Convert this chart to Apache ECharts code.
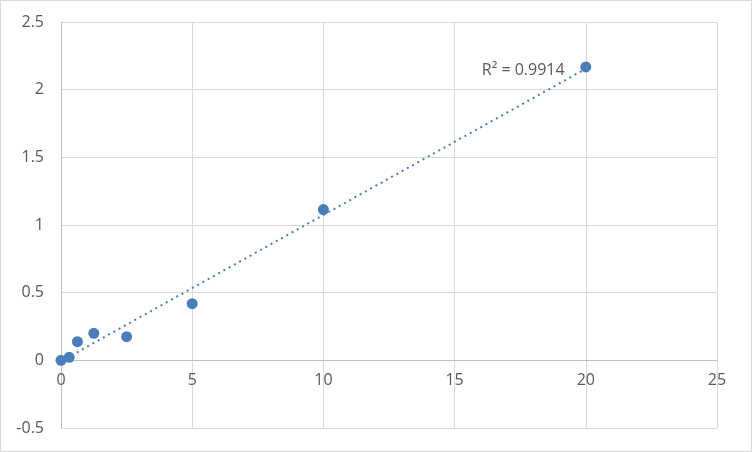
<html>
  <head>
    <meta charset="utf-8" />
    <script src="https://cdn.jsdelivr.net/npm/echarts@6/dist/echarts.min.js"></script>
  </head>
  <body>
    <style>
      html,
      body {
        margin: 0;
        background: #fff;
      }
      #main {
        width: 750px;
        height: 450px;
        border: 1px solid #d9d9d9;
      }
    </style>
    <div id="main"></div>
    <script>
      const concentration = [0, 0.3125, 0.625, 1.25, 2.5, 5, 10, 20];
      const absorbance = [0, 0.022, 0.138, 0.2, 0.175, 0.419, 1.114, 2.168];
      const r2Label = "R² = 0.9914";

      // least squares trendline, like the dotted Excel one
      const n = concentration.length;
      let sx = 0, sy = 0, sxx = 0, sxy = 0;
      for (let i = 0; i < n; i++) {
        sx += concentration[i];
        sy += absorbance[i];
        sxx += concentration[i] * concentration[i];
        sxy += concentration[i] * absorbance[i];
      }
      const slope = (n * sxy - sx * sy) / (n * sxx - sx * sx);
      const intercept = (sy - slope * sx) / n;
      const xMin = Math.min(...concentration);
      const xMax = Math.max(...concentration);
      const trend = [
        [xMin, intercept + slope * xMin],
        [xMax, intercept + slope * xMax],
      ];

      const labelFont = { color: "#595959", fontSize: 16, fontFamily: "Open Sans" };

      var chart = echarts.init(document.getElementById("main"));

      const yMin = -0.5, yMax = 2.5;
      const grid = { left: 60, right: 34, top: 21, bottom: 23 };
      // x axis sits on y = 0 with its labels, like Excel
      const gridH = 450 - grid.top - grid.bottom;
      const xOffset = -gridH * (0 - yMin) / (yMax - yMin);

      var option = {
        animation: false,
        grid: Object.assign({ outerBoundsMode: "none", containLabel: false }, grid),
        xAxis: {
          type: "value",
          min: 0,
          max: 25,
          interval: 5,
          offset: xOffset,
          axisLine: { onZero: false, lineStyle: { color: "#bfbfbf" } },
          axisTick: { show: false },
          axisLabel: Object.assign({ margin: 12 }, labelFont),
          splitLine: { lineStyle: { color: "#d9d9d9" } },
        },
        yAxis: {
          type: "value",
          min: yMin,
          max: yMax,
          interval: 0.5,
          axisLine: { show: true, onZero: true, lineStyle: { color: "#bfbfbf" } },
          axisTick: { show: false },
          axisLabel: Object.assign({ margin: 17 }, labelFont),
          splitLine: { lineStyle: { color: "#d9d9d9" } },
        },
        series: [
          {
            type: "line",
            data: trend,
            showSymbol: false,
            symbol: "none",
            lineStyle: { color: "#4a7ebb", width: 2, type: [2, 4] },
            z: 2,
            endLabel: {
              show: true,
              formatter: r2Label,
              color: "#595959",
              fontSize: 16,
              fontFamily: "Open Sans",
              offset: [-112, 2],
            },
          },
          {
            type: "scatter",
            data: concentration.map((x, i) => [x, absorbance[i]]),
            symbolSize: 11,
            itemStyle: { color: "#4a7ebb", opacity: 1 },
            z: 3,
          },
        ],
      };

      chart.setOption(option);
      window.onresize = chart.resize;
    </script>
  </body>
</html>
